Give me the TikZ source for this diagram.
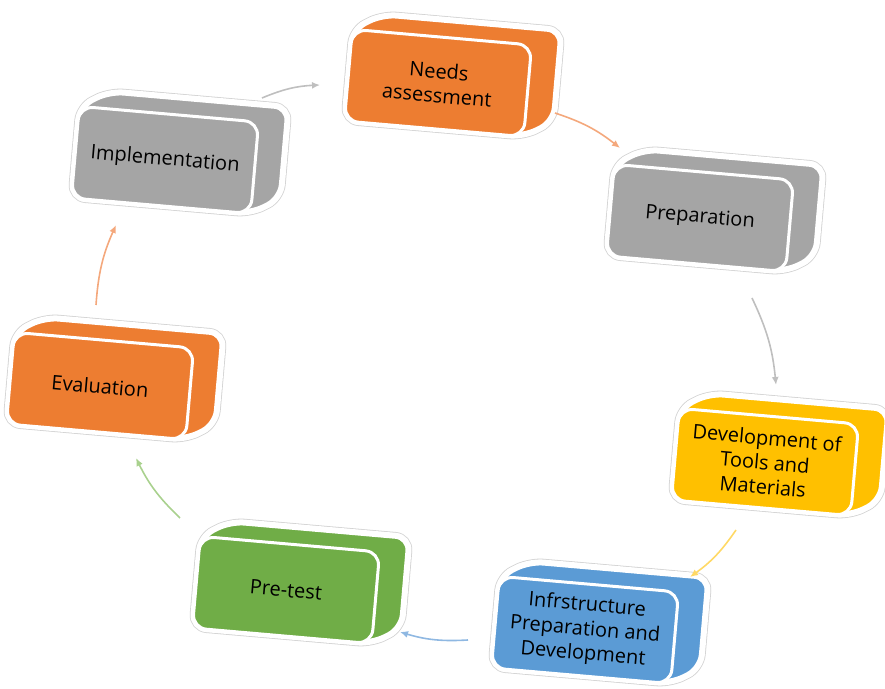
\documentclass[tikz,border=0pt]{standalone}
\usepackage{fontspec}
\setmainfont{Open Sans}
\usetikzlibrary{calc,backgrounds,arrows.meta}
\definecolor{boxorange}{HTML}{ED7D31}
\definecolor{boxgray}{HTML}{A5A5A5}
\definecolor{boxgold}{HTML}{FFC000}
\definecolor{boxblue}{HTML}{5B9BD5}
\definecolor{boxgreen}{HTML}{70AD47}
\definecolor{linkgray}{HTML}{BFBFBF}
\definecolor{linkorange}{HTML}{F4A87C}
\definecolor{linkgold}{HTML}{FFD966}
\definecolor{linkblue}{HTML}{8FB8E2}
\definecolor{linkgreen}{HTML}{A9D18E}

\begin{document}
\begin{tikzpicture}[
		x=0.5pt, y=-0.5pt,
		face/.style={rectangle, rounded corners=7pt, minimum width=90pt, minimum height=46pt,
			inner sep=2pt, outer sep=0pt, draw=white, line width=1.5pt, rotate=-5,
			align=center, font=\fontsize{10}{12.2}\selectfont, text=black},
		hull/.style={draw=white, line width=3pt, rounded corners=7pt,
			preaction={draw=gray!35, line width=3.8pt}},
		link/.style={line width=0.8pt, -{Latex[length=4pt,width=3.5pt]}, bend left=10}
	]
  \useasboundingbox (0,0) rectangle (885,689);
  \node (needs) [face, fill=boxorange] at (438,83) {Needs\\assessment};
  \node (prep) [face, fill=boxgray] at (700,218) {Preparation};
  \node (dev) [face, fill=boxgold] at (765,462) {Development of\\Tools and\\Materials};
  \node (infra) [face, fill=boxblue] at (585,630) {Infrstructure\\Preparation and\\Development};
  \node (pre) [face, fill=boxgreen] at (286,590) {Pre-test};
  \node (eval) [face, fill=boxorange] at (100,386) {Evaluation};
  \node (impl) [face, fill=boxgray] at (165,160) {Implementation};
  \begin{pgfonlayer}{background}
    \foreach \n/\c in {needs/boxorange, prep/boxgray, dev/boxgold, infra/boxblue,
        pre/boxgreen, eval/boxorange, impl/boxgray} {
      \path[hull, fill=\c] (\n.north west) -- ($(\n.north west)+(30,-15)$)
        -- ($(\n.north east)+(30,-15)$) -- ($(\n.south east)+(30,-15)$)
        -- (\n.south east) -- (\n.south west) -- cycle;
    }
  \end{pgfonlayer}
  \draw[link, draw=linkgray] ($(impl)+(97,-62)$) to ($(needs)+(-118,2)$);
  \draw[link, draw=linkorange] ($(needs)+(117,30)$) to ($(prep)+(-80,-70)$);
  \draw[link, draw=linkgray] ($(prep)+(52,80)$) to ($(dev)+(11,-77)$);
  \draw[link, draw=linkgold] ($(dev)+(-29,68)$) to ($(infra)+(105,-53)$);
  \draw[link, draw=linkblue] ($(infra)+(-117,10)$) to ($(pre)+(114,42)$);
  \draw[link, draw=linkgreen] ($(pre)+(-106,-72)$) to ($(eval)+(36,72)$);
  \draw[link, draw=linkorange] ($(eval)+(-4,-81)$) to ($(impl)+(-49,65)$);
\end{tikzpicture}
\end{document}
